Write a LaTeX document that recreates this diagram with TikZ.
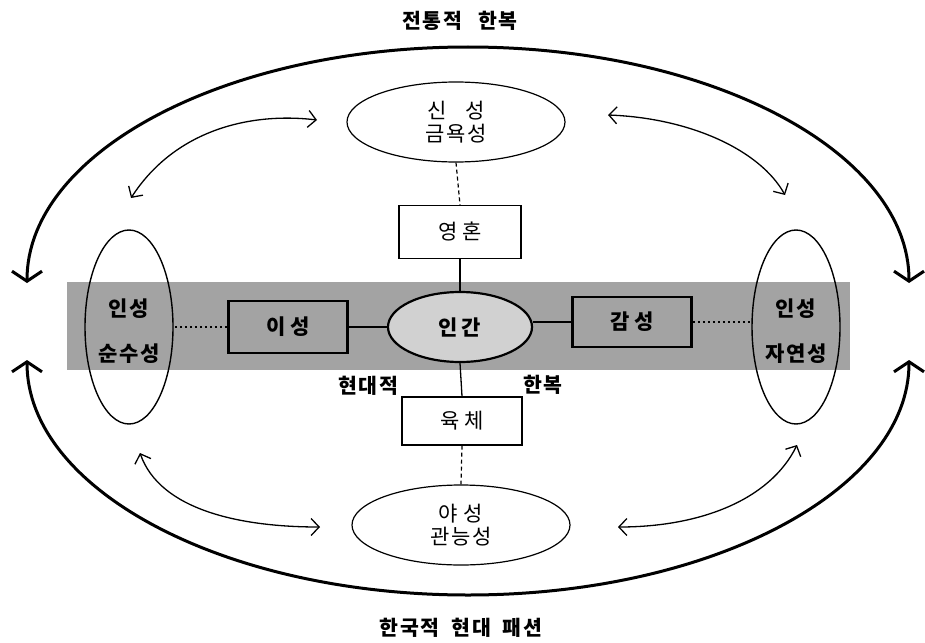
\documentclass[tikz,border=0pt]{standalone}
\usepackage{fontspec}
\setmainfont{Noto Sans CJK KR}[LetterSpace=8]
\usetikzlibrary{arrows.meta,shapes.geometric}
\tikzset{
  kfont/.style={font=\fontsize{21}{23}\selectfont},
  oval/.style={draw, ellipse, line width=1.2pt, inner sep=0pt, kfont, align=center},
  sideoval/.style={draw, ellipse, line width=1.4pt, inner sep=0pt, minimum width=88pt, minimum height=194pt},
  thinbox/.style={draw, rectangle, line width=1.4pt, minimum width=122pt, minimum height=53pt, kfont},
  thickbox/.style={draw, rectangle, line width=2.6pt, minimum width=119pt, minimum height=52pt, font=\fontsize{21}{23}\selectfont\bfseries},
  boldlabel/.style={inner sep=0pt, font=\fontsize{20.5}{22}\selectfont\bfseries},
  sidetext/.style={inner sep=0pt, align=center, font=\fontsize{21}{45}\selectfont\bfseries},
  bigarc/.style={line width=3pt, {Straight Barb[length=10pt,width=30pt]}-{Straight Barb[length=10pt,width=30pt]}},
  smallarc/.style={line width=1.3pt, {Straight Barb[length=8pt,width=17pt]}-{Straight Barb[length=8pt,width=17pt]}},
  vdash/.style={line width=1.2pt, dash pattern=on 4pt off 3pt},
  hdot/.style={line width=2.2pt, dash pattern=on 2.5pt off 2.5pt},
  link/.style={line width=1.3pt},
  thicklink/.style={line width=2.2pt}
}
\begin{document}
\begin{tikzpicture}[x=1pt,y=-1pt]
\useasboundingbox (0,0) rectangle (925,642);
% shaded band
\fill[black!36] (67,282) rectangle (850,370);
% titles
\node[boldlabel] (title) at (460,21) {전통적\hspace{16pt}한복};
\node[boldlabel] (bottom) at (461,628) {한국적\hspace{12pt}현대\hspace{12pt}패션};
% outer arcs
\coordinate (UL) at (27,283);
\coordinate (LL) at (27,360);
\draw[bigarc] (UL) arc[start angle=180, end angle=360, x radius=441, y radius=236];
\draw[bigarc] (LL) arc[start angle=180, end angle=0, x radius=441, y radius=235];
% top and bottom ovals
\node[oval, minimum width=218pt, minimum height=80pt] (sin) at (456,122) {신\phantom{욕}성\\금욕성};
\node[oval, minimum width=218pt, minimum height=80pt] (ya) at (461,525) {야\hspace{6pt}성\\관능성};
% boxes
\node[thinbox] (soul) at (460,232) {영\hspace{5pt}혼};
\node[thinbox, minimum width=120pt, minimum height=48pt] (body) at (462,421) {육\hspace{5pt}체};
\node[thickbox] (reason) at (288,327) {이\hspace{5pt}성};
\node[thickbox, minimum height=50pt] (feel) at (632,322) {감\hspace{5pt}성};
% human
\node[draw, ellipse, line width=2.2pt, fill=black!18, minimum width=144pt, minimum height=70pt, inner sep=0pt, font=\fontsize{21}{23}\selectfont\bfseries] (human) at (460,327) {인\hspace{4pt}간};
% side ovals
\node[sideoval] (left) at (129,327) {};
\node[sidetext] (lefttext) at (129,331) {인성\\순수성};
\node[sideoval] (right) at (796,327) {};
\node[sidetext] (righttext) at (796,331) {인성\\자연성};
% labels
\node[boldlabel] (modern) at (368,386) {현대적};
\node[boldlabel] (hanbok) at (543,385) {한복};
% connectors
\draw[vdash] (sin.south) -- (soul.north);
\draw[link] (soul.south) -- (human.north);
\draw[link] (human.south) -- (body.north);
\draw[vdash] (body.south) -- (ya.north);
\draw[thicklink] (reason.east) -- (human.west);
\draw[thicklink] (feel.west) -- (feel.west -| human.east);
\draw[hdot] (reason.west) -- (left.east);
\draw[hdot] (feel.east) -- (feel.east -| right.west);
% small double arrows
\coordinate (a1) at (131,198); \coordinate (a2) at (317,120);
\coordinate (b1) at (608,115); \coordinate (b2) at (785,195);
\coordinate (c1) at (140,453); \coordinate (c2) at (320,527);
\coordinate (d1) at (618,527); \coordinate (d2) at (797,445);
\draw[smallarc] (a1) .. controls (175,130) and (250,112) .. (a2);
\draw[smallarc] (b1) .. controls (690,118) and (760,150) .. (b2);
\draw[smallarc] (c1) .. controls (160,510) and (240,527) .. (c2);
\draw[smallarc] (d1) .. controls (700,527) and (770,500) .. (d2);
\end{tikzpicture}
\end{document}
